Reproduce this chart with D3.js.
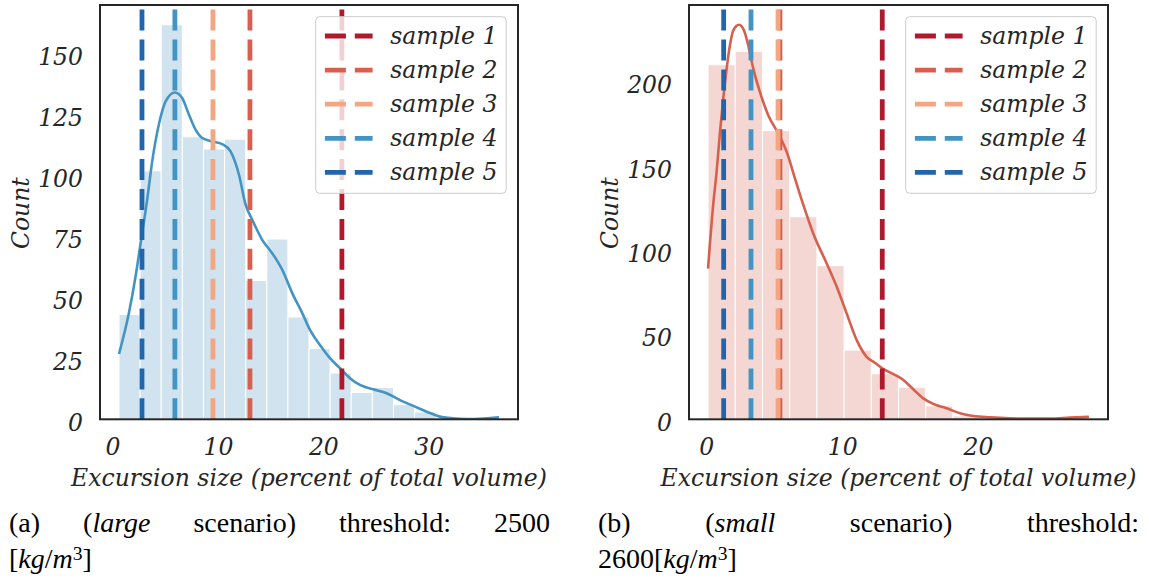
<!DOCTYPE html>
<html>
<head>
<meta charset="utf-8">
<script src="https://cdn.jsdelivr.net/npm/d3@7"></script>
<style>
  html, body { margin: 0; padding: 0; background: #ffffff; }
  svg { display: block; }
</style>
</head>
<body>
<svg id="chart" width="1149" height="581"></svg>
<script>
// ---------------- DATA ----------------
const sampleNames = ["sample 1", "sample 2", "sample 3", "sample 4", "sample 5"];
const sampleColors = ["#b2182b", "#d6604d", "#f4a582", "#4393c3", "#2166ac"];

// (a) large scenario
const largeBinMin = 0.62;
const largeBinMax = 36.66;
const largeCounts = [43, 102, 162, 116, 111, 115, 57, 74, 42, 29, 19, 11, 13, 6, 3, 0, 0, 1];
const largeKde = [
  [0.62, 26.8], [1.56, 43.6], [2.19, 58.6], [2.67, 72.3], [3.29, 90.1], [3.77, 105.9],
  [4.40, 121.0], [5.04, 130.5], [5.92, 134.2], [6.61, 131.9], [7.25, 125.1], [7.88, 118.9],
  [8.51, 115.5], [9.46, 114.1], [10.41, 113.0], [11.2, 110.0], [12.0, 100.4], [12.63, 88.1],
  [13.26, 81.9], [14.2, 73.7], [15.15, 68.2], [16.1, 61.4], [17.05, 51.8], [18.0, 43.6],
  [18.73, 36.7], [19.68, 30.5], [20.63, 25.1], [21.58, 21.0], [22.53, 16.9], [23.47, 14.1],
  [24.73, 12.3], [26.0, 10.7], [27.27, 7.9], [28.53, 5.5], [29.8, 3.1], [31.06, 1.1],
  [32.3, 0.4], [33.6, 0.15], [34.86, 0.25], [36.66, 0.8]
];
const largeSamples = [21.76, 13.04, 9.53, 5.92, 2.80];
const largeXTicks = [0, 10, 20, 30];
const largeYTicks = [0, 25, 50, 75, 100, 125, 150];

// (b) small scenario
const smallBinMin = 0.13;
const smallBinMax = 28.16;
const smallCounts = [210, 218, 171, 120, 91, 41, 27, 19, 8, 2, 0, 0, 0, 1];
const smallKde = [
  [0.13, 89.3], [0.52, 128.0], [0.76, 146.5], [1.01, 170.2], [1.25, 189.9], [1.50, 207.7],
  [1.74, 221.5], [1.99, 230.4], [2.41, 233.7], [2.77, 230.4], [3.09, 221.5], [3.46, 207.7],
  [3.95, 193.8], [4.56, 180.1], [5.3, 169.2], [5.92, 158.3], [6.53, 142.6], [7.1, 128.0],
  [7.87, 110.1], [8.86, 92.3], [9.6, 78.5], [10.33, 62.7], [11.07, 46.9], [11.8, 37.0],
  [12.4, 33.5], [12.95, 30.2], [13.76, 26.8], [14.5, 23.3], [15.23, 17.8], [15.97, 12.4],
  [16.7, 9.1], [17.69, 6.5], [18.67, 3.6], [19.65, 2.0], [20.9, 1.2], [22.35, 0.6],
  [23.8, 0.4], [25.3, 0.4], [26.76, 1.0], [28.16, 1.5]
];
const smallSamples = [12.95, 5.42, 5.28, 3.29, 1.28];
const smallXTicks = [0, 10, 20];
const smallYTicks = [0, 50, 100, 150, 200];

const xLabel = "Excursion size (percent of total volume)";
const yLabel = "Count";

// ---------------- DRAW ----------------
const svg = d3.select("#chart");
const FONT = "DejaVu Serif, serif";
const FSIZE = 23.5;
const TXT = "#262626";

function drawPanel(cfg) {
  const { left, right, top, bottom } = cfg;
  const nb = cfg.counts.length;
  const bw = (cfg.binMax - cfg.binMin) / nb;
  const edges = d3.range(nb + 1).map(i => cfg.binMin + i * bw);
  const span = cfg.binMax - cfg.binMin;
  const x = d3.scaleLinear()
    .domain([cfg.binMin - 0.05 * span, cfg.binMax + 0.05 * span])
    .range([left, right]);
  const ymax = 1.05 * Math.max(d3.max(cfg.counts), d3.max(cfg.kde, d => d[1]));
  const y = d3.scaleLinear().domain([0, ymax]).range([bottom, top]);

  const g = svg.append("g");
  const clipId = "clip" + cfg.id;
  g.append("clipPath").attr("id", clipId).append("rect")
    .attr("x", left).attr("y", top).attr("width", right - left).attr("height", bottom - top);
  const plot = g.append("g").attr("clip-path", `url(#${clipId})`);

  // bars
  plot.selectAll("rect.bar").data(cfg.counts.map((c, i) => ({ c, i })).filter(d => d.c > 0))
    .enter().append("rect").attr("class", "bar")
    .attr("x", d => x(edges[d.i]))
    .attr("width", d => x(edges[d.i + 1]) - x(edges[d.i]))
    .attr("y", d => y(d.c))
    .attr("height", d => y(0) - y(d.c))
    .attr("fill", cfg.barColor)
    .attr("stroke", "#ffffff").attr("stroke-width", 1);

  // kde
  const line = d3.line().x(d => x(d[0])).y(d => y(d[1])).curve(d3.curveMonotoneX);
  plot.append("path").datum(cfg.kde).attr("d", line)
    .attr("fill", "none").attr("stroke", cfg.lineColor).attr("stroke-width", 2.6)
    .attr("stroke-linejoin", "round").attr("stroke-linecap", "butt");

  // sample vertical lines
  cfg.samples.forEach((s, i) => {
    plot.append("line")
      .attr("x1", x(s)).attr("x2", x(s))
      .attr("y1", y(0)).attr("y2", top)
      .attr("stroke", sampleColors[i]).attr("stroke-width", 4.8)
      .attr("stroke-dasharray", "21 8.9");
  });

  // frame
  g.append("rect").attr("x", left).attr("y", top)
    .attr("width", right - left).attr("height", bottom - top)
    .attr("fill", "none").attr("stroke", TXT).attr("stroke-width", 2);

  // axes (labels only, no tick marks)
  const xAxis = d3.axisBottom(x).tickValues(cfg.xTicks).tickSize(0).tickPadding(0);
  const xg = g.append("g").attr("transform", `translate(0,${bottom})`).call(xAxis);
  xg.select(".domain").remove();
  xg.selectAll("text").attr("font-family", FONT).attr("font-style", "italic")
    .attr("font-size", FSIZE).attr("fill", TXT).attr("dy", null).attr("y", 36)
    .attr("text-anchor", "middle");

  const yAxis = d3.axisLeft(y).tickValues(cfg.yTicks).tickSize(0).tickPadding(0);
  const yg = g.append("g").attr("transform", `translate(${left},0)`).call(yAxis);
  yg.select(".domain").remove();
  yg.selectAll("text").attr("font-family", FONT).attr("font-style", "italic")
    .attr("font-size", FSIZE).attr("fill", TXT).attr("dy", null).attr("x", -17).attr("y", 11)
    .attr("text-anchor", "end");

  // axis titles
  g.append("text").attr("x", (left + right) / 2).attr("y", 486)
    .attr("text-anchor", "middle").attr("font-family", FONT).attr("font-style", "italic")
    .attr("font-size", FSIZE).attr("fill", TXT).text(xLabel);
  g.append("text").attr("transform", `translate(${left - 71.5},${(top + bottom) / 2 + 1}) rotate(-90)`)
    .attr("text-anchor", "middle").attr("font-family", FONT).attr("font-style", "italic")
    .attr("font-size", FSIZE).attr("fill", TXT).text(yLabel);

  // legend
  const lgW = 190.5, lgH = 176.6;
  const lgX = right - 11.8 - lgW, lgY = top + 11.7;
  const lg = g.append("g");
  lg.append("rect").attr("x", lgX).attr("y", lgY).attr("width", lgW).attr("height", lgH)
    .attr("rx", 4).attr("ry", 4)
    .attr("fill", "#ffffff").attr("fill-opacity", 0.8)
    .attr("stroke", "#cccccc").attr("stroke-width", 1);
  sampleNames.forEach((nm, i) => {
    const cy = lgY + 19.3 + i * 34.1;
    lg.append("line").attr("x1", lgX + 9.2).attr("x2", lgX + 56.9)
      .attr("y1", cy).attr("y2", cy)
      .attr("stroke", sampleColors[i]).attr("stroke-width", 4.8)
      .attr("stroke-dasharray", "21 8.9");
    lg.append("text").attr("x", lgX + 74.5).attr("y", cy + 7.8)
      .attr("font-family", FONT).attr("font-style", "italic").attr("font-size", FSIZE)
      .attr("fill", TXT).text(nm);
  });
}

drawPanel({ id: "a", left: 100, right: 518, top: 5, bottom: 419.3,
  binMin: largeBinMin, binMax: largeBinMax, counts: largeCounts, kde: largeKde,
  samples: largeSamples, xTicks: largeXTicks, yTicks: largeYTicks,
  barColor: "#d0e3ee", lineColor: "#4393c3" });

drawPanel({ id: "b", left: 689, right: 1108, top: 5, bottom: 419.3,
  binMin: smallBinMin, binMax: smallBinMax, counts: smallCounts, kde: smallKde,
  samples: smallSamples, xTicks: smallXTicks, yTicks: smallYTicks,
  barColor: "#f4d7d2", lineColor: "#d6604d" });

// ---------------- CAPTIONS ----------------
const CFONT = "Liberation Serif, DejaVu Serif, serif";
const CSIZE = 28;
const unitSegs = [["[", 0], ["kg", 1], ["/", 0], ["m", 1], ["3", 2], ["]", 0]];
const captions = [
  { left: 9, right: 550,
    line1: [[["(a)", 0]], [["(", 0], ["large", 1]], [["scenario)", 0]], [["threshold:", 0]], [["2500", 0]]],
    line2: unitSegs },
  { left: 598, right: 1139,
    line1: [[["(b)", 0]], [["(", 0], ["small", 1]], [["scenario)", 0]], [["threshold:", 0]]],
    line2: [["2600", 0]].concat(unitSegs) }
];

function addSegs(textSel, segs) {
  segs.forEach(([t, st]) => {
    const ts = textSel.append("tspan").text(t)
      .attr("font-style", st === 1 ? "italic" : "normal");
    if (st === 2) {
      ts.attr("font-size", CSIZE * 0.7).attr("baseline-shift", "42%");
    }
  });
}

captions.forEach(c => {
  const cg = svg.append("g").attr("font-family", CFONT).attr("font-size", CSIZE).attr("fill", "#000");
  const words = c.line1.map(segs => {
    const t = cg.append("text").attr("y", 532);
    addSegs(t, segs);
    return t;
  });
  const widths = words.map(t => t.node().getComputedTextLength());
  const gap = (c.right - c.left - d3.sum(widths)) / (words.length - 1);
  let xx = c.left;
  words.forEach((t, i) => { t.attr("x", xx); xx += widths[i] + gap; });
  const t2 = cg.append("text").attr("x", c.left).attr("y", 568);
  addSegs(t2, c.line2);
});
</script>
</body>
</html>
